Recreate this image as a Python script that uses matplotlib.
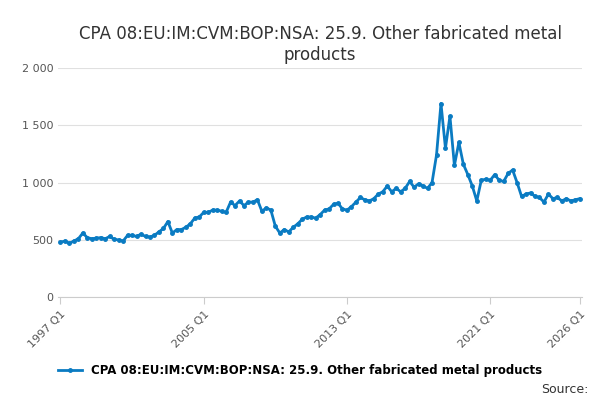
import matplotlib.pyplot as plt
import numpy as np

# Quarterly values, 1997 Q1 .. 2026 Q1
values = [480, 490, 470, 490,
          510, 560, 520, 510,
          515, 520, 510, 530,
          505, 500, 490, 540,
          540, 530, 550, 530,
          525, 540, 570, 600,
          660, 560, 590, 590,
          610, 640, 690, 700,
          740, 740, 760, 760,
          750, 740, 830, 800,
          840, 800, 830, 830,
          850, 750, 780, 760,
          620, 560, 590, 570,
          610, 640, 680, 700,
          700, 690, 720, 760,
          770, 810, 820, 770,
          760, 790, 830, 870,
          850, 840, 860, 900,
          920, 970, 920, 950,
          920, 950, 1010, 960,
          990, 970, 950, 1000,
          1240, 1690, 1300, 1580,
          1150, 1350, 1160, 1070,
          970, 840, 1020, 1030,
          1020, 1070, 1020, 1010,
          1080, 1110, 1000, 880,
          900, 910, 880, 870,
          830, 900, 860, 870,
          840, 860, 840, 850,
          860]
tick_pos = [0, 32, 64, 96, 116]
tick_labels = ['1997 Q1', '2005 Q1', '2013 Q1', '2021 Q1', '2026 Q1']
name = 'CPA 08:EU:IM:CVM:BOP:NSA: 25.9. Other fabricated metal products'

fig, ax = plt.subplots(figsize=(6, 4), dpi=100)
fig.subplots_adjust(left=0.097, right=0.97, top=0.83, bottom=0.257)
x = np.arange(len(values))
ax.plot(x, values, color='#0a7bc2', lw=2, marker='o', ms=2.5, label=name)
ax.set_xlim(-0.5, 116.5)
ax.set_ylim(0, 2000)
ax.set_yticks([0, 500, 1000, 1500, 2000])
ax.set_yticklabels(['0', '500', '1 000', '1 500', '2 000'])
ax.set_xticks(tick_pos)
ax.set_xticklabels(tick_labels, rotation=45, ha='right', rotation_mode='anchor')
ax.tick_params(labelsize=8, colors='#555555', length=0)
ax.tick_params(axis='x', length=5, color='#cccccc')
ax.grid(axis='y', color='#e0e0e0', lw=0.8)
for s in ['top', 'right', 'left']:
    ax.spines[s].set_visible(False)
ax.spines['bottom'].set_color('#cccccc')
ax.set_title('CPA 08:EU:IM:CVM:BOP:NSA: 25.9. Other fabricated metal\nproducts',
             fontsize=12, color='#333333')
fig.legend(loc='lower center', bbox_to_anchor=(0.5, 0.03), frameon=False,
           prop={'size': 8.5, 'weight': 'bold'}, handlelength=2)
fig.text(0.98, 0.01, 'Source:', ha='right', va='bottom', fontsize=9, color='#333333')
fig.savefig('out.png')
